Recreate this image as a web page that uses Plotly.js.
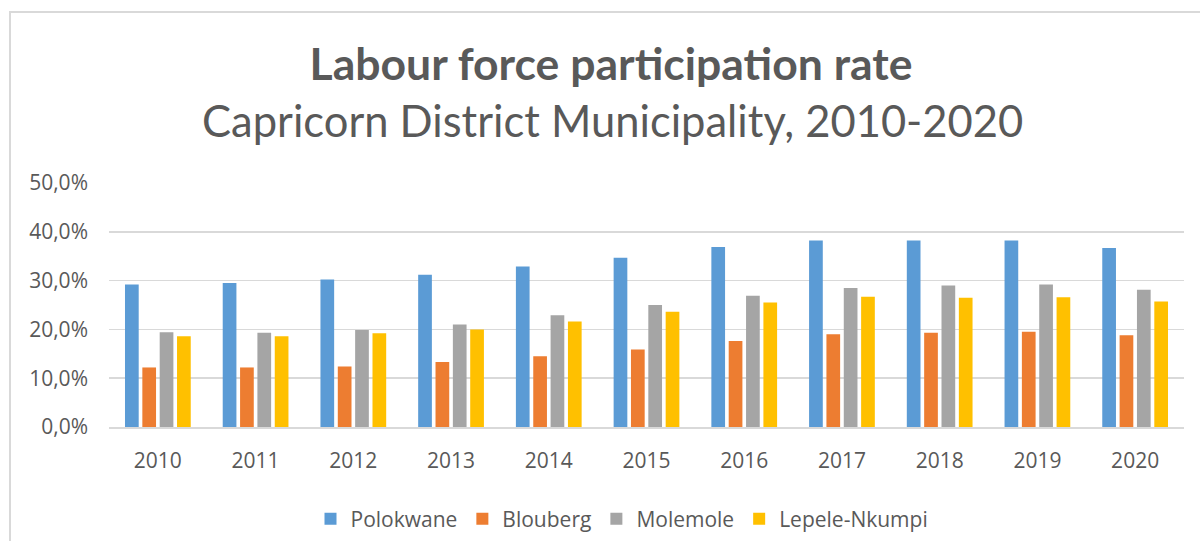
<!DOCTYPE html>
<html>
<head>
<meta charset="utf-8">
<script src="https://cdn.plot.ly/plotly-3.0.1.min.js"></script>
<style>
  html, body { margin: 0; padding: 0; background: #ffffff; }
  #wrap { position: relative; width: 1200px; height: 541px; overflow: hidden; }
  #frame { position: absolute; left: 9px; top: 11px; width: 1300px; height: 700px;
           border-left: 2px solid #d9d9d9; border-top: 2px solid #d9d9d9; }
  #chart { position: absolute; left: 0; top: 0; width: 1200px; height: 541px; }
</style>
</head>
<body>
<div id="wrap">
  <div id="frame"></div>
  <div id="chart"></div>
</div>
<script>
const years = ['2010','2011','2012','2013','2014','2015','2016','2017','2018','2019','2020'];
const polokwane    = [29.2, 29.5, 30.2, 31.2, 32.9, 34.7, 36.9, 38.2, 38.2, 38.2, 36.7];
const blouberg     = [12.2, 12.2, 12.4, 13.3, 14.5, 15.9, 17.6, 19.0, 19.3, 19.5, 18.8];
const molemole     = [19.4, 19.3, 19.9, 21.0, 22.9, 25.0, 26.9, 28.5, 29.0, 29.2, 28.1];
const lepeleNkumpi = [18.6, 18.6, 19.2, 20.0, 21.6, 23.6, 25.5, 26.7, 26.5, 26.6, 25.7];

const seriesNames = ['Polokwane', 'Blouberg', 'Molemole', 'Lepele-Nkumpi'];
const seriesValues = [polokwane, blouberg, molemole, lepeleNkumpi];
const seriesColors = ['#5B9BD5', '#ED7D31', '#A5A5A5', '#FFC000'];

const traces = seriesNames.map((name, i) => ({
  type: 'bar',
  name: name,
  x: years,
  y: seriesValues[i],
  marker: { color: seriesColors[i], line: { width: 0 } },
  hoverinfo: 'x+y+name'
}));

const textColor = '#595959';
const layout = {
  width: 1200,
  height: 541,
  paper_bgcolor: 'rgba(0,0,0,0)',
  plot_bgcolor: 'rgba(0,0,0,0)',
  margin: { l: 109, r: 16, t: 183, b: 114, autoexpand: false },
  separators: ',.',
  barmode: 'group',
  bargap: 0.29,
  bargroupgap: 0.21,
  title: {
    text: '<b>Labour force participation rate</b>',
    font: { family: 'Lato, "Open Sans", sans-serif', size: 44.5, color: textColor },
    x: 611 / 1200, xanchor: 'center',
    y: 1 - 64 / 541, yanchor: 'middle', yref: 'container'
  },
  annotations: [{
    text: 'Capricorn District Municipality, 2010-2020',
    xref: 'paper', yref: 'paper',
    x: (612 - 109) / 1075, y: (427 - 120) / 244,
    xanchor: 'center', yanchor: 'middle',
    showarrow: false,
    font: { family: 'Lato, "Open Sans", sans-serif', size: 43.5, color: textColor }
  }],
  xaxis: {
    type: 'category',
    showgrid: false,
    showline: true,
    linecolor: '#d9d9d9',
    linewidth: 1.5,
    ticks: '',
    ticklabelstandoff: 14,
    tickfont: { family: '"Open Sans", sans-serif', size: 21, color: textColor },
    fixedrange: true
  },
  yaxis: {
    range: [0, 50],
    dtick: 10,
    tick0: 0,
    tickformat: '.1f',
    ticksuffix: '%',
    showgrid: true,
    gridcolor: '#d9d9d9',
    gridwidth: 1.5,
    zeroline: false,
    showline: false,
    ticks: '',
    ticklabelstandoff: 20,
    tickfont: { family: '"Open Sans", sans-serif', size: 21, color: textColor },
    fixedrange: true
  },
  showlegend: true,
  legend: {
    orientation: 'h',
    xref: 'container', yref: 'container',
    x: 622 / 1200, xanchor: 'center',
    y: 1 - 519 / 541, yanchor: 'middle',
    font: { family: '"Open Sans", sans-serif', size: 21, color: textColor },
    itemwidth: 30,
    traceorder: 'normal'
  }
};

Plotly.newPlot('chart', traces, layout, { displayModeBar: false, staticPlot: true });
</script>
</body>
</html>
